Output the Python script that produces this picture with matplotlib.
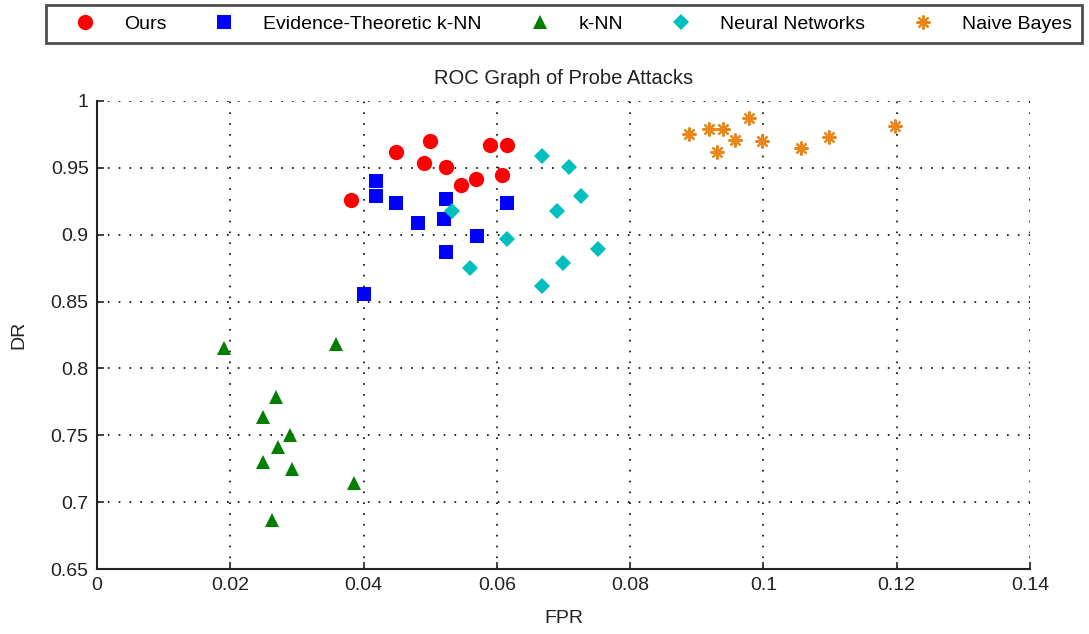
import matplotlib
matplotlib.use("Agg")
import matplotlib.pyplot as plt
from matplotlib.lines import Line2D

plt.rcParams['font.family'] = ['Liberation Sans', 'DejaVu Sans']

ours_fpr = [0.0381, 0.0449, 0.0499, 0.0490, 0.0524, 0.0546, 0.0568, 0.0590, 0.0615, 0.0608]
ours_dr = [0.926, 0.962, 0.970, 0.954, 0.951, 0.937, 0.942, 0.967, 0.967, 0.945]

etknn_fpr = [0.0419, 0.0419, 0.0449, 0.0481, 0.0524, 0.0521, 0.0524, 0.0570, 0.0615, 0.0400]
etknn_dr = [0.940, 0.929, 0.924, 0.909, 0.927, 0.912, 0.887, 0.899, 0.924, 0.856]

knn_fpr = [0.0190, 0.0358, 0.0268, 0.0249, 0.0290, 0.0271, 0.0249, 0.0293, 0.0386, 0.0262]
knn_dr = [0.815, 0.818, 0.779, 0.764, 0.750, 0.741, 0.730, 0.725, 0.714, 0.687]

nn_fpr = [0.0533, 0.0667, 0.0708, 0.0727, 0.0690, 0.0615, 0.0752, 0.0699, 0.0559, 0.0667]
nn_dr = [0.918, 0.959, 0.951, 0.929, 0.918, 0.897, 0.889, 0.879, 0.875, 0.862]

nb_fpr = [0.0889, 0.0919, 0.0939, 0.0930, 0.0958, 0.0979, 0.0998, 0.1057, 0.1098, 0.1197]
nb_dr = [0.975, 0.979, 0.979, 0.962, 0.971, 0.987, 0.970, 0.965, 0.973, 0.981]

labels = ['Ours', 'Evidence-Theoretic k-NN', 'k-NN', 'Neural Networks', 'Naive Bayes']
xticks = [0, 0.02, 0.04, 0.06, 0.08, 0.1, 0.12, 0.14]
xticklabels = ['0', '0.02', '0.04', '0.06', '0.08', '0.1', '0.12', '0.14']
yticks = [0.65, 0.7, 0.75, 0.8, 0.85, 0.9, 0.95, 1]
yticklabels = ['0.65', '0.7', '0.75', '0.8', '0.85', '0.9', '0.95', '1']

red = '#FF0000'
blue = '#0000FF'
green = '#007F00'
cyan = '#00BFBF'
orange = '#E8871E'

styles = [
    dict(marker='o', color=red, markersize=11, markeredgewidth=0),
    dict(marker='s', color=blue, markersize=9.5, markeredgewidth=0),
    dict(marker='^', color=green, markersize=9.5, markeredgewidth=0),
    dict(marker='D', color=cyan, markersize=8, markeredgewidth=0),
    dict(marker=(8, 2, 0), color=orange, markersize=10, markeredgewidth=1.6),
]

fig = plt.figure(figsize=(10.89, 6.34), dpi=100)
ax = fig.add_axes([0.0891, 0.1025, 0.8567, 0.7382])

series = [(ours_fpr, ours_dr), (etknn_fpr, etknn_dr), (knn_fpr, knn_dr),
          (nn_fpr, nn_dr), (nb_fpr, nb_dr)]
for (xs, ys), st in zip(series, styles):
    ax.plot(xs, ys, linestyle='none', **st)
ax.plot(nb_fpr, nb_dr, 'o', color=orange, markersize=4.5, markeredgewidth=0, linestyle='none')

ax.set_xlim(0, 0.14)
ax.set_ylim(0.65, 1)
ax.set_xticks(xticks)
ax.set_xticklabels(xticklabels)
ax.set_yticks(yticks)
ax.set_yticklabels(yticklabels)
ax.grid(True, linestyle=(0, (1, 5.5)), color='black', linewidth=1.2)
ax.tick_params(direction='in', length=5, labelsize=14, width=1.2, colors='#222222', pad=6)
for s in ['top', 'right']:
    ax.spines[s].set_visible(False)
for s in ['left', 'bottom']:
    ax.spines[s].set_linewidth(1.5)
    ax.spines[s].set_color('#222222')
ax.set_xlabel('FPR', fontsize=14, color='#222222')
ax.set_ylabel('DR', fontsize=14, color='#222222')
ax.xaxis.set_label_coords(0.5, -0.087)
ax.yaxis.set_label_coords(-0.075, 0.5)
ax.set_title('ROC Graph of Probe Attacks', fontsize=14.5, pad=12, color='#222222')

handles = [Line2D([], [], linestyle='none', **st) for st in styles]
leg = fig.legend(handles, labels, loc='center', ncol=5,
                 bbox_to_anchor=(0.0422, 0.9322, 0.9514, 0.0599),
                 mode='expand', frameon=True, fancybox=False, fontsize=14,
                 handlelength=3.0, handletextpad=0.5, borderaxespad=0, borderpad=0.5)
leg.get_frame().set_edgecolor('#222222')
leg.get_frame().set_linewidth(2)

fig.savefig('out.png', dpi=100)
